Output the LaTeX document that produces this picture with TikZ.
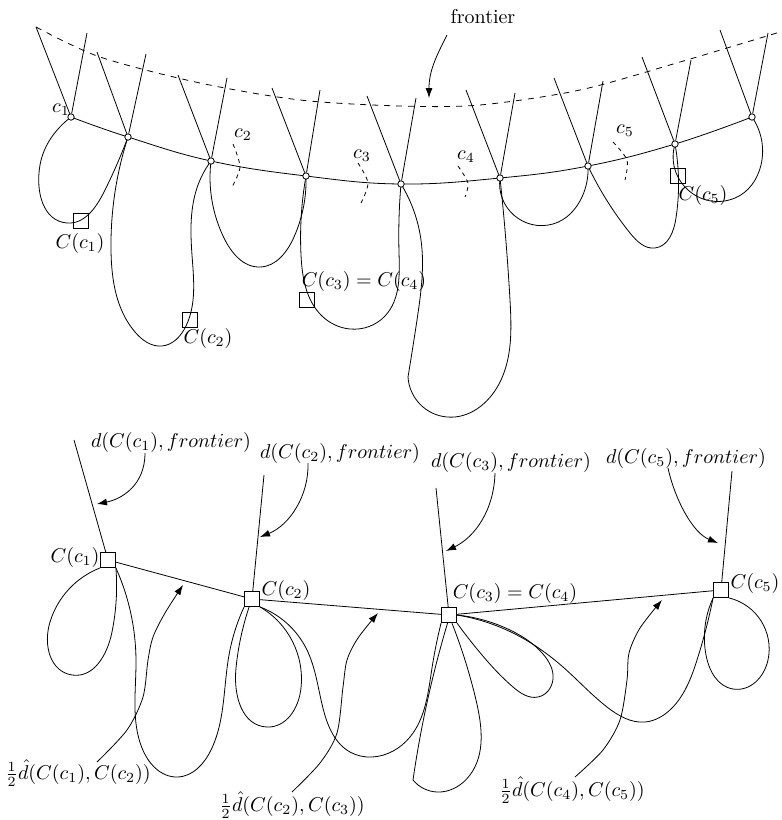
\documentclass[tikz,border=0pt]{standalone}
\usetikzlibrary{arrows.meta,hobby}
\pgfdeclarelayer{background}
\pgfsetlayers{background,main}
\begin{document}
\begin{tikzpicture}[x=0.5pt,y=-0.5pt,
  dot/.style={circle,draw,fill=white,inner sep=0pt,minimum size=3.2pt},
  sq/.style={rectangle,draw,inner sep=0pt,minimum size=7.5pt},
  sqw/.style={sq,fill=white},
  lbl/.style={inner sep=1pt},
  arr/.style={-{Latex[length=5pt,width=3.5pt]}},
  front/.style={dashed},
  ctick/.style={dash pattern=on 2pt off 2pt},
  crv/.style={smooth,tension=0.7},
  hob/.style={use Hobby shortcut}]
\useasboundingbox (0,0) rectangle (782,820);

% ---------------- labels (top) ----------------
\node[lbl] (lfront) at (483,17) {frontier};
\node[lbl] (lc1) at (61,110) {$c_1$};
\node[lbl] (lc2) at (243,135) {$c_2$};
\node[lbl] (lc3) at (362,156) {$c_3$};
\node[lbl] (lc4) at (466,157) {$c_4$};
\node[lbl] (lc5) at (625,131) {$c_5$};
\node[lbl] (lC1t) at (80,243) {$C(c_1)$};
\node[lbl] (lC2t) at (208,338) {$C(c_2)$};
\node[lbl] (lC34t) at (364,281) {$C(c_3)=C(c_4)$};
\node[lbl] (lC5t) at (703,195) {$C(c_5)$};

% circles on the path
\node[dot] (k1) at (71,117) {};
\node[dot] (k2) at (128,137) {};
\node[dot] (k3) at (211,161) {};
\node[dot] (k4) at (306,176) {};
\node[dot] (k5) at (401,184) {};
\node[dot] (k6) at (500,178) {};
\node[dot] (k7) at (588,166) {};
\node[dot] (k8) at (675,144) {};
\node[dot] (k9) at (752,117) {};

% squares (top)
\node[sq] (q1) at (81,221) {};
\node[sq] (q2) at (190,320) {};
\node[sq] (q34) at (307,300) {};
\node[sq] (q5) at (678,176) {};

% spoke ends (top)
\coordinate (u1a) at (36,27);  \coordinate (u1b) at (87,33);
\coordinate (u2a) at (97,52);  \coordinate (u2b) at (146,54);
\coordinate (u3a) at (178,75); \coordinate (u3b) at (227,78);
\coordinate (u4a) at (272,88); \coordinate (u4b) at (320,90);
\coordinate (u5a) at (367,96); \coordinate (u5b) at (416,98);
\coordinate (u6a) at (466,90); \coordinate (u6b) at (515,93);
\coordinate (u7a) at (554,78); \coordinate (u7b) at (603,81);
\coordinate (u8a) at (642,57); \coordinate (u8b) at (691,60);
\coordinate (u9a) at (720,30); \coordinate (u9b) at (768,33);

\coordinate (fs) at (447,35);
\coordinate (ft) at (429,98);

% ---------------- bottom ----------------
\node[sqw] (s1) at (108,560) {};
\node[sqw] (s2) at (252,599) {};
\node[sqw] (s3) at (449,615) {};
\node[sqw] (s5) at (721,590) {};

\node[lbl] (lC1) at (75,557) {$C(c_1)$};
\node[lbl] (lC2) at (286,590) {$C(c_2)$};
\node[lbl] (lC34) at (515,593) {$C(c_3)=C(c_4)$};
\node[lbl] (lC5) at (755,583) {$C(c_5)$};

\node[lbl] (ld1) at (171,442) {$d(C(c_1), frontier)$};
\node[lbl] (ld2) at (340,453) {$d(C(c_2), frontier)$};
\node[lbl] (ld3) at (511,462) {$d(C(c_3), frontier)$};
\node[lbl] (ld5) at (686,458) {$d(C(c_5), frontier)$};

\node[lbl] (lh1) at (78,773) {$\frac{1}{2}\hat{d}(C(c_1), C(c_2))$};
\node[lbl] (lh2) at (292,805) {$\frac{1}{2}\hat{d}(C(c_2), C(c_3))$};
\node[lbl] (lh3) at (572,790) {$\frac{1}{2}\hat{d}(C(c_4), C(c_5))$};

\coordinate (t1) at (74,440);
\coordinate (t2) at (264,475);
\coordinate (t3) at (436,488);
\coordinate (t5) at (732,471);

\coordinate (d1s) at (145,453); \coordinate (d1t) at (97,504);
\coordinate (d2s) at (308,463); \coordinate (d2t) at (260,537);
\coordinate (d3s) at (495,473); \coordinate (d3t) at (446,551);
\coordinate (d5s) at (668,468); \coordinate (d5t) at (718,543);
\coordinate (h1s) at (97,762);  \coordinate (h1t) at (183,585);
\coordinate (h2s) at (292,792); \coordinate (h2t) at (378,613);
\coordinate (h3s) at (575,777); \coordinate (h3t) at (662,600);

\begin{pgfonlayer}{background}
% frontier
\draw[front] plot[smooth] coordinates {(36,27) (100,57) (200,83) (300,100) (400,106) (480,105) (580,90) (680,62) (780,32)};
\draw[arr] (fs) .. controls (437,55) and (429,70) .. (ft);
% main path
\draw plot[crv] coordinates {(k1) (k2) (k3) (k4) (k5) (k6) (k7) (k8) (k9)};
% spokes
\foreach \i in {1,...,9}{
  \draw (u\i a) -- (k\i) -- (u\i b);
}
% c ticks
\draw[ctick] plot[smooth] coordinates {(233,144) (240,167) (232,187)};
\draw[ctick] plot[smooth] coordinates {(358,163) (368,183) (361,203)};
\draw[ctick] plot[smooth] coordinates {(458,166) (468,183) (465,197)};
\draw[ctick] plot[smooth] coordinates {(613,142) (627,160) (625,180)};
% top loops
\draw[hob] (k1.center) .. (40,165) .. (67,223) .. (104,192) .. (k2.center);
\draw[hob] (k2.center) .. (111,250) .. (135,332) .. (162,346) .. (186,326) .. (192,255) .. (198,185) .. (k3.center);
\draw[hob] (k3.center) .. (224,238) .. (260,267) .. (294,237) .. (k4.center);
\draw[hob] (k4.center) .. (301,255) .. (322,316) .. (350,329) .. (385,316) .. (399,252) .. (k5.center);
\draw[hob] (k5.center) .. (421,240) .. (417,320) .. (408,377);
\draw[hob] (408,377) .. (447,417) .. (499,384) .. (510,300) .. (k6.center);
\draw[hob] (k6.center) .. (553,224) .. (582,197) .. (k7.center);
\draw[hob] (k7.center) .. (630,233) .. (655,248) .. (676,218) .. (k8.center);
\draw[hob] (k8.center) .. (735,198) .. (761,165) .. (k9.center);

% bottom: spokes and links
\draw (t1) -- (s1);
\draw (t2) -- (s2);
\draw (t3) -- (s3);
\draw (t5) -- (s5);
\draw (s1) -- (s2) -- (s3) -- (s5);
% bottom loops
\draw[hob] (s1.south west) .. (50,622) .. (72,675) .. (112,632) .. (s1.south east);
\draw[hob] (s1.south east) .. (136,660) .. (142,748) .. (177,777) .. (211,750) .. (229,655) .. (s2.south west);
\draw[hob] (s2.250) .. (236,668) .. (267,727) .. (301,688) .. (s2.south east);
\draw[hob] (s2.south east) .. (306,648) .. (324,712) .. (350,752) .. (372,757) .. (410,737) .. (432,668) .. (s3.south west);
\draw[hob] (s3.260) .. (425,712) .. (413,780);
\draw[hob] (413,780) .. (437,792) .. (470,775) .. (476,700) .. (s3.290);
\draw[hob] (s3.south east) .. (482,655) .. (513,687) .. (538,697) .. (553,679) .. (543,654) .. (510,630) .. (s3.east);
\draw[hob] (s3.east) .. (513,633) .. (563,667) .. (607,707) .. (645,722) .. (672,708) .. (697,660) .. (s5.south west);
\draw[hob] (s5.south west) .. (706,655) .. (733,689) .. (768,660) .. (s5.south east);

% label arrows
\draw[arr] (d1s) .. controls (145,485) and (122,499) .. (d1t);
\draw[arr] (d2s) .. controls (309,495) and (290,525) .. (d2t);
\draw[arr] (d3s) .. controls (494,510) and (475,537) .. (d3t);
\draw[arr] (d5s) .. controls (675,500) and (693,533) .. (d5t);
\draw[arr] plot[smooth] coordinates {(h1s) (127,730) (143,697) (148,660) (153,637) (165,613) (h1t)};
\draw[arr] plot[smooth] coordinates {(h2s) (320,763) (337,733) (343,687) (347,660) (358,638) (h2t)};
\draw[arr] plot[smooth] coordinates {(h3s) (603,750) (620,720) (627,680) (629,653) (640,628) (h3t)};
\end{pgfonlayer}
\end{tikzpicture}
\end{document}
